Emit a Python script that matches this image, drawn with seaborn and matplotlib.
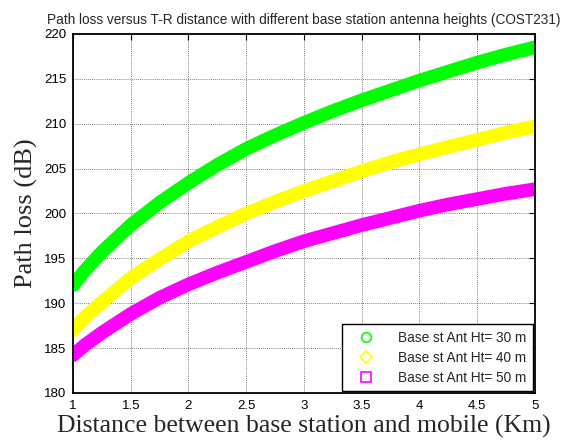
import matplotlib
matplotlib.use("Agg")
import matplotlib.pyplot as plt
from matplotlib.lines import Line2D
import seaborn as sns
import pandas as pd

# T-R distance (km)
distance_km = [1.0, 1.1, 1.25, 1.5, 1.75, 2.0, 2.25, 2.5, 2.75, 3.0,
               3.25, 3.5, 3.75, 4.0, 4.25, 4.5, 4.75, 5.0]

# Path loss (dB) for each base station antenna height
loss_30m = [192.0, 193.6, 195.7, 198.7, 201.2, 203.4, 205.4, 207.2, 208.7, 210.1,
            211.4, 212.6, 213.7, 214.8, 215.8, 216.8, 217.7, 218.5]
loss_40m = [187.0, 188.4, 190.1, 192.8, 194.9, 196.9, 198.5, 200.0, 201.3, 202.5,
            203.6, 204.7, 205.7, 206.6, 207.4, 208.2, 209.0, 209.7]
loss_50m = [184.2, 185.3, 186.7, 188.8, 190.6, 192.1, 193.4, 194.6, 195.8, 196.9,
            197.8, 198.7, 199.5, 200.3, 201.0, 201.6, 202.2, 202.7]

series_labels = ["Base st Ant Ht= 30 m", "Base st Ant Ht= 40 m", "Base st Ant Ht= 50 m"]
series_colors = ["#00ff00", "#ffff00", "#ff00ff"]
series_markers = ["o", "D", "s"]

x_ticks = [1, 1.5, 2, 2.5, 3, 3.5, 4, 4.5, 5]
x_tick_labels = ["1", "1.5", "2", "2.5", "3", "3.5", "4", "4.5", "5"]
y_ticks = [180, 185, 190, 195, 200, 205, 210, 215, 220]

frames = []
for label, vals in zip(series_labels, [loss_30m, loss_40m, loss_50m]):
    frames.append(pd.DataFrame({"distance": distance_km, "loss": vals, "series": label}))
df = pd.concat(frames, ignore_index=True)

sns.set_style("white")
plt.rcParams["font.family"] = ["Liberation Sans", "DejaVu Sans"]

fig = plt.figure(figsize=(5.66, 4.40), dpi=100)
ax = fig.add_axes([0.129, 0.107, 0.816, 0.816])

sns.lineplot(data=df, x="distance", y="loss", hue="series",
             palette=dict(zip(series_labels, series_colors)),
             linewidth=9.8, legend=False, ax=ax, sort=True)
for line in ax.get_lines():
    line.set_solid_capstyle("round")
    line.set_solid_joinstyle("round")

ax.set_xlim(1, 5)
ax.set_ylim(180, 220)
ax.set_xticks(x_ticks)
ax.set_xticklabels(x_tick_labels)
ax.set_yticks(y_ticks)
ax.grid(True, color="#555555", linestyle=(0, (1, 1.5)), linewidth=0.6)
ax.set_axisbelow(True)
ax.tick_params(direction="in", length=4, width=0.8, top=True, right=True,
               labelsize=9.5, pad=5, colors="black")
for spine in ax.spines.values():
    spine.set_color("black")
    spine.set_linewidth(1.3)

ax.set_title("Path loss versus T-R distance with different base station antenna heights (COST231)",
             fontsize=9.8, pad=7)
ax.set_xlabel("Distance between base station and mobile (Km)",
              family=["Liberation Serif", "DejaVu Serif"], fontsize=18.5, labelpad=2)
ax.set_ylabel("Path loss (dB)", family=["Liberation Serif", "DejaVu Serif"],
              fontsize=19, labelpad=4)

# Legend shows hollow markers only
handles = [Line2D([], [], linestyle="none", marker=m, markersize=7 if m != "D" else 6,
                  markerfacecolor="none", markeredgecolor=c, markeredgewidth=1.2)
           for m, c in zip(series_markers, series_colors)]
leg = ax.legend(handles, series_labels, loc="lower right", fontsize=9.8,
                frameon=True, fancybox=False, framealpha=1, edgecolor="black",
                borderaxespad=0.15, handletextpad=1.1, handlelength=2.6,
                labelspacing=0.45, borderpad=0.45)
leg.get_frame().set_linewidth(1.0)

fig.savefig("out.png", dpi=100)
